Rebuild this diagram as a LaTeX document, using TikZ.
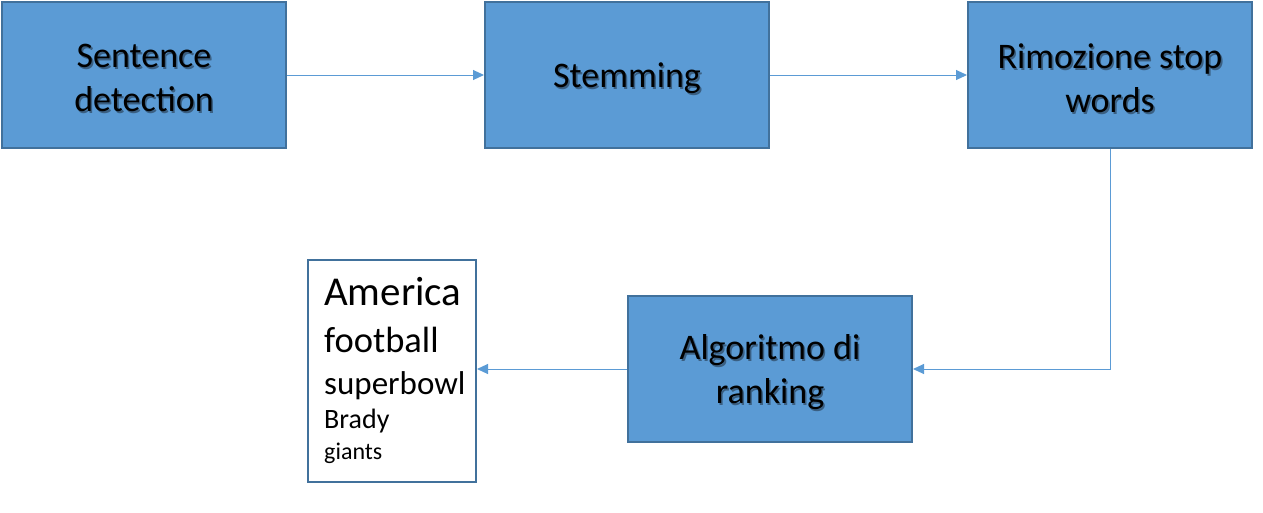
\documentclass[tikz,border=0pt]{standalone}
\usepackage{fontspec}
\setmainfont{Carlito}
\usetikzlibrary{arrows.meta}
\definecolor{boxfill}{HTML}{5B9BD5}
\definecolor{boxline}{HTML}{41719C}
\definecolor{shadowc}{HTML}{3A5F82}
\newcommand\sht[1]{\raisebox{-4pt}[\height][\depth]{\rlap{\kern1.6pt\raisebox{-1.6pt}{\color{shadowc}#1}}#1}}
\tikzset{
  procbox/.style={draw=boxline, line width=2pt, fill=boxfill, minimum width=284pt, minimum height=146pt, inner sep=0pt, align=center, text=black, font=\fontsize{36}{44}\selectfont},
  outbox/.style={draw=boxline, line width=2pt, fill=white, minimum width=168pt, minimum height=222pt, inner sep=0pt},
  conn/.style={draw=boxfill, line width=1pt, -{Triangle[length=11pt,width=10pt]}},
  word/.style={anchor=base west, inner sep=0pt, text=black}
}
\begin{document}
\begin{tikzpicture}[x=1pt,y=-1pt]
\useasboundingbox (0,0) rectangle (1263,512);
\node[procbox] (s) at (144,75) {\sht{Sentence}\\\sht{detection}};
\node[procbox] (st) at (627,75) {\sht{Stemming}};
\node[procbox] (r) at (1110,75) {\sht{Rimozione stop}\\\sht{words}};
\node[procbox] (a) at (770,369) {\sht{Algoritmo di}\\\sht{ranking}};
\node[outbox] (o) at (392,371) {};
\node[word, font=\fontsize{41}{44}\selectfont] (w1) at (324,305) {America};
\node[word, font=\fontsize{36.5}{40}\selectfont] (w2) at (324,352) {football};
\node[word, font=\fontsize{33}{36}\selectfont] (w3) at (324,394) {superbowl};
\node[word, font=\fontsize{28}{30}\selectfont] (w4) at (324,428) {Brady};
\node[word, font=\fontsize{24}{26}\selectfont] (w5) at (324,459) {giants};
\draw[conn] (s.east) -- (st.west);
\draw[conn] (st.east) -- (r.west);
\draw[conn] (r.south) |- (a.east);
\draw[conn] (a.west) -- (a.west -| o.east);
\end{tikzpicture}
\end{document}
